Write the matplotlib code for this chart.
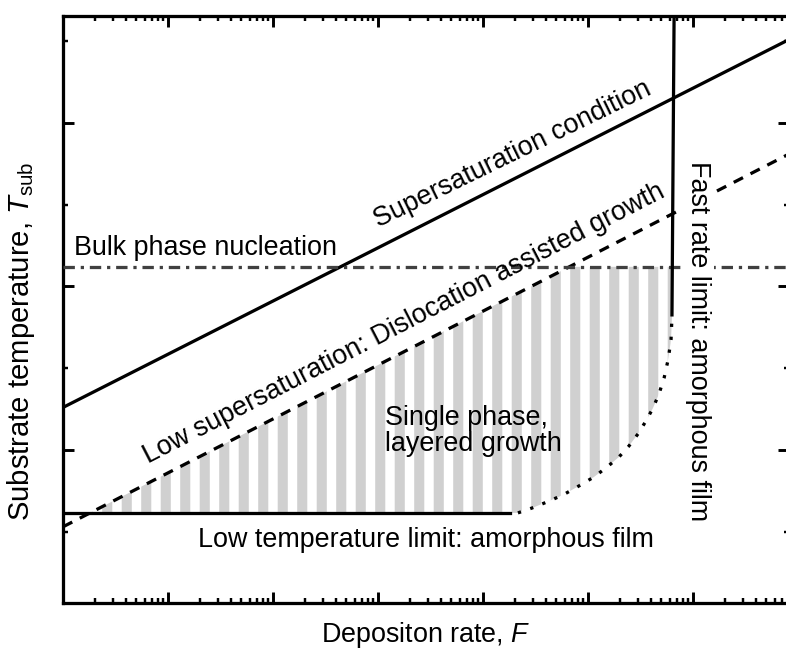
import numpy as np
import matplotlib
matplotlib.use("Agg")
import matplotlib.pyplot as plt
from matplotlib.ticker import LogLocator, MultipleLocator, NullFormatter

DPI = 117

plt.rcParams["font.family"] = ["Liberation Sans", "DejaVu Sans"]
plt.rcParams["mathtext.fontset"] = "custom"
plt.rcParams["mathtext.rm"] = "Liberation Sans"
plt.rcParams["mathtext.it"] = "Liberation Sans:italic"
plt.rcParams["hatch.linewidth"] = 6.2
plt.rcParams["hatch.color"] = "#d0d0d0"

# axis range (deposition rate, arb. units on log scale)
F_lim = [1, 8.2e6]
T_lim = [0.064, 3.654]

# supersaturation condition (solid)
supersat_F = [1, 8.2e6]
supersat_T = [1.26, 3.51]

# low supersaturation: dislocation assisted growth (dashed)
disloc_F = [1, 8.2e6]
disloc_T = [0.53, 2.81]

# bulk phase nucleation (dash-dot)
bulk_T = 2.12

# low temperature limit (solid)
lowT_F = [1, 1.8e4]
lowT_T = [0.615, 0.615]

# fast rate limit (solid, nearly vertical)
fast_F = [6.6e5, 6.3e5]
fast_T = [3.66, 1.826]

# curved boundary between fast rate limit and low temperature limit (dotted)
curve_F = [2.15e4, 2.93e4, 4.07e4, 5.78e4, 8.2e4, 1.14e5, 1.52e5, 1.97e5,
           2.45e5, 2.99e5, 3.56e5, 4.16e5, 4.74e5, 5.30e5, 5.78e5, 6.17e5, 6.31e5]
curve_T = [0.615, 0.645, 0.682, 0.725, 0.780, 0.835, 0.896, 0.957,
           1.024, 1.098, 1.177, 1.257, 1.343, 1.440, 1.550, 1.673, 1.826]

fig = plt.figure(figsize=(786 / DPI, 651 / DPI), dpi=DPI)
ax = fig.add_axes([63 / 786, 48 / 651, 726 / 786, 587 / 651])
ax.set_xscale("log")
ax.set_xlim(F_lim)
ax.set_ylim(T_lim)

# shaded single phase region
F_grid = np.logspace(0, np.log10(fast_F[1]), 800)
upper = np.minimum(np.interp(np.log10(F_grid), np.log10(disloc_F), disloc_T), bulk_T)
lower = np.interp(np.log10(F_grid), np.log10(curve_F), curve_T)
ax.fill_between(F_grid, lower, upper, where=upper > lower, interpolate=True,
                facecolor="none", edgecolor="#d0d0d0", hatch="|", linewidth=0, zorder=1)

lw = 2.0
ax.plot(supersat_F, supersat_T, color="black", lw=lw, zorder=3)
ax.plot(disloc_F, disloc_T, color="black", lw=lw, ls=(0, (3.2, 2.6)), zorder=3)
ax.axhline(bulk_T, color="#404040", lw=lw, ls=(0, (3.5, 1.8, 1, 1.8)), zorder=3)
ax.plot(lowT_F, lowT_T, color="black", lw=lw, zorder=3)
ax.plot(fast_F, fast_T, color="black", lw=lw, zorder=3)
ax.plot(curve_F, curve_T, color="black", lw=lw, ls=(0, (1, 3)), zorder=3)

fs = 16.5
ax.text(1.27, 2.193, "Bulk phase nucleation", fontsize=fs, ha="left", va="baseline")
ax.text(2.02e4, 2.768, "Supersaturation condition", fontsize=fs, rotation=26,
        rotation_mode="anchor", ha="center", va="baseline")
ax.text(1.89e3, 1.734, "Low supersaturation: Dislocation assisted growth", fontsize=fs,
        rotation=27.3, rotation_mode="anchor", ha="center", va="baseline")
ax.text(1.17e3, 0.994, "Single phase,\nlayered growth", fontsize=fs, ha="left",
        va="baseline", linespacing=1.0)
ax.text(2.87e3, 0.407, "Low temperature limit: amorphous film", fontsize=fs,
        ha="center", va="baseline")
ax.text(1.12e6, 1.667, "Fast rate limit: amorphous film", fontsize=fs, rotation=-90,
        ha="center", va="center", zorder=4,
        bbox=dict(facecolor="white", edgecolor="none", pad=2))

ax.set_xlabel("Depositon rate, $F$", fontsize=fs, va="top")
ax.xaxis.set_label_coords(0.5, -0.029)
ax.set_ylabel("Substrate temperature, $T_{\\mathrm{sub}}$", fontsize=18)
ax.yaxis.set_label_coords(-0.036, 0.446)

ax.xaxis.set_major_locator(LogLocator(base=10, numticks=100))
ax.xaxis.set_minor_locator(LogLocator(base=10, subs=np.arange(2, 10), numticks=100))
ax.xaxis.set_minor_formatter(NullFormatter())
ax.yaxis.set_major_locator(MultipleLocator(1))
ax.yaxis.set_minor_locator(MultipleLocator(0.5))
ax.tick_params(which="both", direction="in", top=True, right=True,
               labelbottom=False, labelleft=False)
ax.tick_params(which="major", length=6.5, width=1.8)
ax.tick_params(which="minor", length=3, width=1.5)
for s in ax.spines.values():
    s.set_linewidth(2)

fig.savefig("out.png", dpi=DPI)
